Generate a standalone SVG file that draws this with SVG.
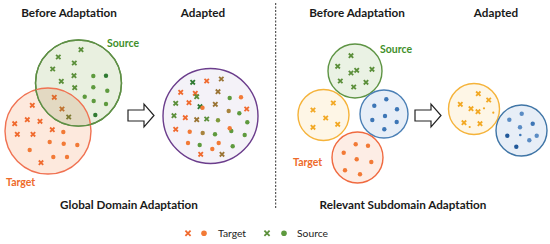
<svg xmlns="http://www.w3.org/2000/svg" xmlns:xlink="http://www.w3.org/1999/xlink" width="550" height="244" viewBox="0 0 550 244">
<style>
text{font-family:Lato,"Open Sans","Liberation Sans",sans-serif}
.t{font-size:11.7px;font-weight:bold;fill:#1a1a1a;text-anchor:middle}
.lg{font-size:10.3px;fill:#222}
.src{font-size:10.5px;font-weight:bold;fill:#3f8f2a}
.tgt{font-size:10.5px;font-weight:bold;fill:#ee6a2a}
.xo,.xg,.xdg,.xb,.xy{stroke-width:1.8;fill:none}
.xo{stroke:#f06a2e}
.xg{stroke:#5b8f3a}
.xdg{stroke:#2e7a32}
.xb{stroke:#9a7434}
.xy{stroke:#f2a823}
.do{fill:#f27a36}
.dg{fill:#5e9a3e}
.ddg{fill:#2f7a32}
.db{fill:#a8843e}
.dbl{fill:#3d76b6}
.dbd{fill:#21599a}
.dbm{fill:#5a8cc4}
.dy{fill:#f2a823}
.arrow{fill:#fff;stroke:#222;stroke-width:1.2;stroke-linejoin:miter}
</style>
<defs>
<path id="x" d="M-2.2,-2.2L2.2,2.2M-2.2,2.2L2.2,-2.2"/>
<path id="xl" d="M-2.6,-2.6L2.6,2.6M-2.6,2.6L2.6,-2.6"/>
<clipPath id="gclip"><circle cx="78.5" cy="83" r="43"/></clipPath>
</defs>
<rect width="550" height="244" fill="#fff"/>

<g id="titles">
<text class="t" x="69" y="17">Before Adaptation</text>
<text class="t" x="203" y="17">Adapted</text>
<text class="t" x="357" y="17">Before Adaptation</text>
<text class="t" x="496" y="17">Adapted</text>
<text class="t" x="129" y="209">Global Domain Adaptation</text>
<text class="t" x="403" y="209">Relevant Subdomain Adaptation</text>
</g>

<g id="left-target">
<circle cx="48" cy="131" r="43" fill="#fde9dd" stroke="#f07252" stroke-width="1.4"/>
<text class="tgt" x="6" y="186">Target</text>
</g>
<g id="left-source">
<circle cx="78.5" cy="83" r="43" fill="#e9f0e0" stroke="#5e8f45" stroke-width="1.4"/>
<circle cx="48" cy="131" r="43" fill="#e3d9c2" clip-path="url(#gclip)"/>
<circle cx="78.5" cy="83" r="43" fill="none" stroke="#5e8f45" stroke-width="1.4"/>
<circle cx="48" cy="131" r="43" fill="none" stroke="#f07252" stroke-width="1.4" clip-path="url(#gclip)"/>
<text class="src" x="107" y="46.5">Source</text>
</g>
<g id="left-points">
<use xlink:href="#x" class="xg" x="81" y="49.7"/>
<use xlink:href="#x" class="xg" x="58.3" y="57"/>
<use xlink:href="#x" class="xg" x="74.3" y="63"/>
<use xlink:href="#x" class="xg" x="52.7" y="69"/>
<use xlink:href="#x" class="xg" x="74" y="75.7"/>
<use xlink:href="#x" class="xg" x="61.3" y="81.3"/>
<use xlink:href="#x" class="xg" x="74.7" y="87.7"/>
<circle class="dg" cx="93.3" cy="76" r="2.2"/>
<circle class="ddg" cx="106" cy="75.7" r="2.2"/>
<circle class="dg" cx="93.3" cy="87.3" r="2.2"/>
<circle class="dg" cx="107.3" cy="90.7" r="2.2"/>
<circle class="dg" cx="84.7" cy="96.7" r="2.2"/>
<circle class="dg" cx="93.7" cy="101" r="2.2"/>
<circle class="dg" cx="106" cy="104" r="2.2"/>
<circle class="ddg" cx="95.3" cy="115" r="2.2"/>
<use xlink:href="#x" class="xo" x="54.3" y="97.3" style="stroke:#e06a2c"/>
<use xlink:href="#x" class="xb" x="62" y="109" style="stroke:#c0702e"/>
<use xlink:href="#x" class="xb" x="68.7" y="117" style="stroke:#7d7a32"/>
<use xlink:href="#x" class="xo" x="32.3" y="105.3"/>
<use xlink:href="#x" class="xo" x="27.3" y="119.7"/>
<use xlink:href="#x" class="xo" x="40" y="121.3"/>
<use xlink:href="#x" class="xo" x="14.7" y="123.7"/>
<use xlink:href="#x" class="xo" x="52.3" y="129.7"/>
<use xlink:href="#x" class="xo" x="17.3" y="134.3"/>
<use xlink:href="#x" class="xo" x="33" y="134.3"/>
<use xlink:href="#x" class="xo" x="41" y="162.7"/>
<circle class="do" cx="63.3" cy="132" r="2.2"/>
<circle class="do" cx="49.7" cy="142" r="2.2"/>
<circle class="do" cx="63.7" cy="143.7" r="2.2"/>
<circle class="do" cx="77.3" cy="145" r="2.2"/>
<circle class="do" cx="29.7" cy="150" r="2.2"/>
<circle class="do" cx="53.3" cy="157" r="2.2"/>
<circle class="do" cx="67" cy="157" r="2.2"/>
</g>

<g id="left-adapted">
<circle cx="210.5" cy="116" r="47.5" fill="#f4f2f8" stroke="#6b3d8c" stroke-width="1.4"/>
<use xlink:href="#x" class="xdg" x="192.7" y="82.3"/>
<use xlink:href="#x" class="xo" x="206.7" y="81"/>
<use xlink:href="#x" class="xb" x="221.3" y="79"/>
<use xlink:href="#x" class="xo" x="180.7" y="92.3"/>
<use xlink:href="#x" class="xo" x="195.3" y="93.3"/>
<use xlink:href="#x" class="xg" x="196.7" y="96.7"/>
<use xlink:href="#x" class="xb" x="218" y="91.7"/>
<circle class="dg" cx="229.7" cy="98" r="2.2"/>
<circle class="do" cx="241" cy="97.3" r="2.2"/>
<use xlink:href="#x" class="xg" x="175.7" y="103.3"/>
<use xlink:href="#x" class="xo" x="189" y="102.7"/>
<use xlink:href="#x" class="xdg" x="200" y="106.7"/>
<circle class="do" cx="202.5" cy="107.7" r="2.2"/>
<use xlink:href="#x" class="xb" x="215.3" y="104.3"/>
<circle class="db" cx="228.7" cy="111" r="2.2"/>
<circle class="dg" cx="239.3" cy="113.3" r="2.2"/>
<use xlink:href="#x" class="xo" x="246.7" y="109"/>
<use xlink:href="#x" class="xg" x="174" y="115.7"/>
<use xlink:href="#x" class="xo" x="185.3" y="117.7"/>
<use xlink:href="#x" class="xb" x="196.7" y="119.7"/>
<use xlink:href="#x" class="xg" x="206.7" y="119"/>
<circle class="db" cx="218" cy="120.3" r="2.2" style="fill:#7f9a3c"/>
<circle class="dg" cx="247.3" cy="122.3" r="2.2"/>
<use xlink:href="#x" class="xo" x="175.7" y="129.3"/>
<circle class="do" cx="189.7" cy="131.7" r="2.2"/>
<circle class="db" cx="202.7" cy="133" r="2.2"/>
<circle class="dg" cx="215" cy="134.3" r="2.2"/>
<circle class="dg" cx="231.3" cy="131" r="2.2"/>
<circle class="do" cx="229.7" cy="128.3" r="2.2"/>
<circle class="dg" cx="244.7" cy="135" r="2.2"/>
<circle class="do" cx="188" cy="143" r="2.2"/>
<circle class="dg" cx="199.7" cy="145" r="2.2"/>
<circle class="do" cx="218.7" cy="143" r="2.2"/>
<circle class="do" cx="212.3" cy="149" r="2.2"/>
<circle class="dg" cx="232.7" cy="146.3" r="2.2"/>
<use xlink:href="#x" class="xo" x="200.7" y="154.3"/>
<use xlink:href="#x" class="xb" x="222" y="154.3"/>
</g>

<g id="right-source">
<circle cx="355" cy="71" r="27" fill="#eaf2e4" stroke="#5e9444" stroke-width="1.4"/>
<use xlink:href="#x" class="xg" x="351" y="55.7"/>
<use xlink:href="#x" class="xg" x="337.7" y="66.3"/>
<use xlink:href="#x" class="xg" x="356.7" y="70.3"/>
<use xlink:href="#x" class="xg" x="351" y="73"/>
<use xlink:href="#x" class="xg" x="372" y="69.3"/>
<use xlink:href="#x" class="xg" x="340.3" y="81"/>
<use xlink:href="#x" class="xg" x="366" y="82.3"/>
<use xlink:href="#x" class="xg" x="353.7" y="87"/>
<text class="src" x="380" y="53">Source</text>
</g>
<g id="right-yellow">
<circle cx="323.5" cy="115" r="25.5" fill="#fef6e6" stroke="#f5b33a" stroke-width="1.4"/>
<use xlink:href="#x" class="xy" x="333.3" y="103"/>
<use xlink:href="#x" class="xy" x="313" y="110"/>
<use xlink:href="#x" class="xy" x="325.7" y="118"/>
<use xlink:href="#x" class="xy" x="337.7" y="124.3"/>
<use xlink:href="#x" class="xy" x="313" y="127.3"/>
</g>
<g id="right-blue">
<circle cx="384" cy="114" r="24" fill="#e7eef7" stroke="#4a7fb5" stroke-width="1.4"/>
<circle class="dbl" cx="386.3" cy="99.3" r="2.2"/>
<circle class="dbl" cx="374.3" cy="105.7" r="2.2"/>
<circle class="dbl" cx="397" cy="109.3" r="2.2"/>
<circle class="dbl" cx="385" cy="116" r="2.2"/>
<circle class="dbl" cx="372.3" cy="120" r="2.2"/>
<circle class="dbl" cx="396.7" cy="122" r="2.2"/>
<circle class="dbl" cx="384.3" cy="129.3" r="2.2"/>
</g>
<g id="right-target">
<circle cx="357.5" cy="157.5" r="25.5" fill="#fdede5" stroke="#f06a40" stroke-width="1.4"/>
<circle class="do" cx="355.7" cy="144.3" r="2.2"/>
<circle class="do" cx="368" cy="145.7" r="2.2"/>
<circle class="do" cx="343.7" cy="152.7" r="2.2"/>
<circle class="do" cx="356.7" cy="159.3" r="2.2"/>
<circle class="do" cx="371.3" cy="162" r="2.2"/>
<circle class="do" cx="345" cy="170.3" r="2.2"/>
<circle class="do" cx="360" cy="174.3" r="2.2"/>
<text class="tgt" x="293" y="166">Target</text>
</g>

<g id="right-adapted-yellow">
<circle cx="474" cy="109" r="25.5" fill="#fef6e6" stroke="#f5b33a" stroke-width="1.4"/>
<use xlink:href="#x" class="xy" x="478.3" y="93.7"/>
<use xlink:href="#x" class="xy" x="488.7" y="100"/>
<use xlink:href="#x" class="xy" x="460.3" y="104.3"/>
<use xlink:href="#x" class="xy" x="471" y="108.7"/>
<use xlink:href="#x" class="xy" x="478" y="111.7"/>
<use xlink:href="#x" class="xy" x="464" y="122.7"/>
<use xlink:href="#x" class="xy" x="480" y="123.7"/>
<circle class="dy" cx="484" cy="108.3" r="1.1"/>
<circle class="dy" cx="493.3" cy="112.7" r="1.1"/>
<circle class="dy" cx="469.7" cy="127" r="1.1"/>
</g>
<g id="right-adapted-blue">
<circle cx="521.5" cy="130.5" r="25.5" fill="#e7eef7" stroke="#3f75a6" stroke-width="1.4"/>
<circle class="dbm" cx="521.7" cy="113.7" r="2.2"/>
<circle class="dbm" cx="509.3" cy="119.7" r="2.2"/>
<circle class="dbl" cx="532.7" cy="123.7" r="2.2"/>
<circle class="dbm" cx="520" cy="127.3" r="2.2"/>
<circle class="dbd" cx="507.3" cy="135.7" r="2.2"/>
<circle class="dbl" cx="520.3" cy="135" r="1.3"/>
<circle class="dbm" cx="536.7" cy="135.7" r="2.2"/>
<circle class="dbm" cx="529.3" cy="140.3" r="2.2"/>
<circle class="dbd" cx="516.3" cy="146.7" r="2.2"/>
</g>

<g id="connectors">
<polygon class="arrow" points="128,110 144,110 144,104 154,115.5 144,127 144,121 128,121"/>
<polygon class="arrow" points="415,110 431,110 431,104 441,115.5 431,127 431,121 415,121"/>
<line x1="275.7" y1="3" x2="275.7" y2="208" stroke="#333" stroke-width="1" stroke-dasharray="2,1.5"/>
</g>

<g id="legend">
<use xlink:href="#xl" class="xo" x="188" y="233.3"/>
<circle class="do" cx="204" cy="233.3" r="2.8"/>
<text class="lg" x="218" y="236.7">Target</text>
<use xlink:href="#xl" class="xg" x="267" y="233.3"/>
<circle class="dg" cx="284" cy="233.3" r="2.8"/>
<text class="lg" x="297" y="236.7">Source</text>
</g>
</svg>
